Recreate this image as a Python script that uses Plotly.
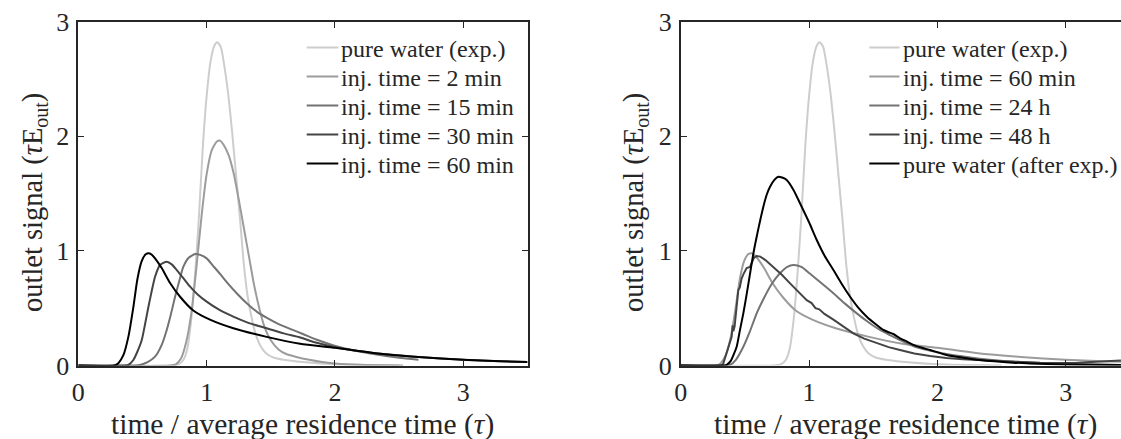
import plotly.graph_objects as go

# ---------------- data ----------------
# pure water (exp.) -- same curve in both panels
x_pw = [0, 0.72, 0.78, 0.82, 0.85, 0.88, 0.91, 0.94, 0.97, 1.00, 1.03, 1.06, 1.083, 1.11, 1.14,
        1.17, 1.20, 1.23, 1.26, 1.29, 1.32, 1.35, 1.38, 1.42, 1.46, 1.52, 1.60, 1.75, 2.0, 2.5]
y_pw = [0, 0, 0.01, 0.05, 0.15, 0.4, 0.8, 1.3, 1.9, 2.35, 2.65, 2.79, 2.82, 2.78, 2.6,
        2.35, 2.02, 1.65, 1.28, 0.88, 0.6, 0.42, 0.28, 0.17, 0.11, 0.07, 0.05, 0.03, 0.01, 0]

# inj. time = 2 min
x_2min = [0, 0.72, 0.76, 0.80, 0.84, 0.88, 0.92, 0.96, 1.00, 1.04, 1.08, 1.104, 1.13, 1.17, 1.21,
          1.25, 1.29, 1.33, 1.37, 1.41, 1.45, 1.50, 1.56, 1.62, 1.70, 1.80, 1.90, 2.0, 2.2, 2.53]
y_2min = [0, 0, 0.01, 0.06, 0.2, 0.45, 0.85, 1.3, 1.67, 1.88, 1.955, 1.962, 1.93, 1.84, 1.68,
          1.45, 1.2, 0.95, 0.7, 0.5, 0.34, 0.22, 0.14, 0.1, 0.075, 0.05, 0.03, 0.018, 0.006, 0]

# inj. time = 15 min
x_15min = [0, 0.44, 0.48, 0.54, 0.598, 0.65, 0.689, 0.72, 0.754, 0.79, 0.818, 0.86, 0.91, 0.95,
           1.0, 1.05, 1.104, 1.17, 1.234, 1.31, 1.39, 1.47, 1.546, 1.65, 1.75, 1.87, 1.99, 2.15,
           2.3, 2.5, 2.65]
y_15min = [0, 0, 0.005, 0.03, 0.077, 0.18, 0.31, 0.44, 0.6, 0.75, 0.86, 0.94, 0.973, 0.965,
           0.935, 0.87, 0.80, 0.71, 0.63, 0.545, 0.47, 0.415, 0.37, 0.32, 0.275, 0.22, 0.175, 0.13,
           0.1, 0.068, 0.05]

# inj. time = 30 min
x_30min = [0, 0.36, 0.39, 0.429, 0.46, 0.494, 0.52, 0.546, 0.572, 0.598, 0.637, 0.689, 0.73,
           0.767, 0.82, 0.871, 0.93, 1.0, 1.1, 1.208, 1.33, 1.468, 1.6, 1.728, 1.85, 2.0, 2.3,
           2.65, 3.0, 3.5]
y_30min = [0, 0, 0.005, 0.048, 0.12, 0.22, 0.36, 0.51, 0.65, 0.775, 0.877, 0.906, 0.88,
           0.833, 0.76, 0.688, 0.62, 0.557, 0.485, 0.426, 0.37, 0.325, 0.28, 0.245, 0.2, 0.16, 0.11,
           0.075, 0.05, 0.03]

# inj. time = 60 min -- same curve in both panels
x_60min = [0, 0.28, 0.312, 0.351, 0.39, 0.429, 0.46, 0.494, 0.525, 0.551, 0.575, 0.598, 0.65,
           0.715, 0.793, 0.896, 1.026, 1.208, 1.468, 1.728, 2.0, 2.3, 2.65, 3.0, 3.29, 3.5]
y_60min = [0, 0, 0.02, 0.09, 0.25, 0.51, 0.75, 0.91, 0.97, 0.98, 0.965, 0.935, 0.85,
           0.72, 0.6, 0.48, 0.40, 0.325, 0.25, 0.19, 0.155, 0.11, 0.075, 0.05, 0.037, 0.03]

# inj. time = 24 h
x_24h = [0, 0.36, 0.384, 0.43, 0.488, 0.54, 0.592, 0.645, 0.696, 0.74, 0.787, 0.83, 0.878, 0.94,
         1.008, 1.1, 1.19, 1.28, 1.372, 1.46, 1.553, 1.63, 1.709, 1.81, 1.94, 2.07, 2.33, 2.59,
         2.85, 3.2, 3.43]
y_24h = [0, 0, 0.005, 0.05, 0.164, 0.3, 0.455, 0.58, 0.688, 0.76, 0.82, 0.86, 0.877, 0.86,
         0.80, 0.715, 0.63, 0.54, 0.455, 0.38, 0.31, 0.265, 0.222, 0.17, 0.13, 0.1, 0.06, 0.035,
         0.02, 0.01, 0.005]

# inj. time = 48 h (noisy measurement)
x_48h = [0, 0.31, 0.33, 0.358, 0.38, 0.397, 0.405, 0.41, 0.42, 0.435, 0.449, 0.46, 0.475, 0.49,
         0.514, 0.54, 0.555, 0.57, 0.592, 0.62, 0.66, 0.722, 0.79, 0.852, 0.92, 0.982, 1.02, 1.05,
         1.08, 1.12, 1.19, 1.27, 1.345, 1.43, 1.528, 1.62, 1.709, 1.82, 1.943, 2.07, 2.2, 2.4,
         2.59, 2.8, 2.98, 3.08, 3.16, 3.25, 3.32, 3.37, 3.43]
y_48h = [0, 0, 0.01, 0.106, 0.2, 0.25, 0.35, 0.3, 0.34, 0.5, 0.66, 0.68, 0.76, 0.8,
         0.85, 0.86, 0.9, 0.94, 0.955, 0.95, 0.92, 0.86, 0.79, 0.717, 0.64, 0.57, 0.545, 0.5,
         0.49, 0.45, 0.4, 0.34, 0.28, 0.235, 0.193, 0.16, 0.135, 0.105, 0.083, 0.065, 0.054, 0.042,
         0.033, 0.025, 0.02, 0.022, 0.028, 0.032, 0.036, 0.04, 0.043]

# pure water (after exp.)
x_pwa = [0, 0.34, 0.358, 0.39, 0.436, 0.46, 0.488, 0.515, 0.54, 0.565, 0.592, 0.62, 0.644, 0.67,
         0.696, 0.73, 0.761, 0.79, 0.826, 0.88, 0.93, 1.0, 1.06, 1.12, 1.19, 1.25, 1.32, 1.38,
         1.45, 1.52, 1.579, 1.62, 1.657, 1.709, 1.76, 1.813, 1.88, 1.943, 2.07, 2.2, 2.33, 2.59,
         2.85, 3.1, 3.43]
y_pwa = [0, 0, 0.005, 0.04, 0.164, 0.3, 0.455, 0.63, 0.80, 0.97, 1.124, 1.27, 1.386, 1.49,
         1.56, 1.62, 1.647, 1.64, 1.619, 1.53, 1.415, 1.25, 1.095, 0.96, 0.833, 0.72, 0.60, 0.51,
         0.426, 0.36, 0.31, 0.29, 0.275, 0.237, 0.21, 0.18, 0.155, 0.135, 0.092, 0.068, 0.048, 0.025,
         0.012, 0.007, 0.004]

left_names = ["pure water (exp.)", "inj. time = 2 min", "inj. time = 15 min",
              "inj. time = 30 min", "inj. time = 60 min"]
right_names = ["pure water (exp.)", "inj. time = 60 min", "inj. time = 24 h",
               "inj. time = 48 h", "pure water (after exp.)"]
grays = ["#cdcdcd", "#9c9c9c", "#737373", "#444444", "#000000"]

x_tick_vals = [0, 1, 2, 3]
y_tick_vals = [0, 1, 2, 3]
x_title = "time / average residence time (<i>τ</i>)"
y_title = "outlet signal (<i>τ</i>E<sub>out</sub>)"

# ---------------- figure ----------------
W, H = 1121, 439
FONT = "Liberation Serif"
AX = "#262626"

left_data = [(x_pw, y_pw), (x_2min, y_2min), (x_15min, y_15min), (x_30min, y_30min), (x_60min, y_60min)]
right_data = [(x_pw, y_pw), (x_60min, y_60min), (x_24h, y_24h), (x_48h, y_48h), (x_pwa, y_pwa)]

fig = go.Figure()
for (xs, ys), name, col in zip(left_data, left_names, grays):
    fig.add_trace(go.Scatter(x=xs, y=ys, mode="lines", name=name, xaxis="x", yaxis="y",
                             line=dict(color=col, width=2, shape="spline", smoothing=0.6),
                             showlegend=False))
for i, ((xs, ys), name, col) in enumerate(zip(right_data, right_names, grays)):
    shape = "linear" if i == 3 else "spline"
    fig.add_trace(go.Scatter(x=xs, y=ys, mode="lines", name=name, xaxis="x2", yaxis="y2",
                             line=dict(color=col, width=2, shape=shape, smoothing=0.6),
                             showlegend=False))

x0L, x1L = 78.3, 527.5
x0R = 680.7
px_per_unit = (x1L - x0L) / 3.5
yTop, yBot = 21.7, 365.5

common_ax = dict(showgrid=False, zeroline=False, showline=True, linecolor=AX, linewidth=1.6,
                 ticks="inside", ticklen=6, tickwidth=1.4, tickcolor=AX,
                 tickfont=dict(family=FONT, size=26, color=AX), automargin=False)

annotations = [
    dict(text=x_title, x=(x0L + x1L) / 2 / W, y=1 - 424 / H, xref="paper", yref="paper",
         showarrow=False, xanchor="center", yanchor="middle",
         font=dict(family=FONT, size=29.5, color=AX)),
    dict(text=x_title, x=(x0R + 3.5 * px_per_unit / 2) / W, y=1 - 424 / H, xref="paper", yref="paper",
         showarrow=False, xanchor="center", yanchor="middle",
         font=dict(family=FONT, size=29.5, color=AX)),
    dict(text=y_title, x=34 / W, y=1 - 203 / H, xref="paper", yref="paper",
         showarrow=False, xanchor="center", yanchor="middle", textangle=-90,
         font=dict(family=FONT, size=28.5, color=AX)),
    dict(text=y_title, x=635 / W, y=1 - 203 / H, xref="paper", yref="paper",
         showarrow=False, xanchor="center", yanchor="middle", textangle=-90,
         font=dict(family=FONT, size=28.5, color=AX)),
]

# legend boxes (swatch line + label), drawn at the reference's legend positions
shapes = []
legend_rows_y = [47.5, 76.5, 105.5, 134.5, 163.5]
for names, sx0, sx1, tx in [(left_names, 306.7, 338.3, 339.0), (right_names, 869.3, 899.5, 900.5)]:
    for name, col, ry in zip(names, grays, legend_rows_y):
        shapes.append(dict(type="line", xref="paper", yref="paper", x0=sx0 / W, x1=sx1 / W,
                           y0=1 - ry / H, y1=1 - ry / H, line=dict(color=col, width=2)))
        annotations.append(dict(text=name, x=tx / W, y=1 - (ry + 1) / H, xref="paper", yref="paper",
                                showarrow=False, xanchor="left", yanchor="middle",
                                font=dict(family=FONT, size=24, color=AX)))

fig.update_layout(
    width=W, height=H, margin=dict(l=0, r=0, t=0, b=0),
    paper_bgcolor="white", plot_bgcolor="white", showlegend=False,
    xaxis=dict(domain=[x0L / W, x1L / W], range=[0, 3.5], anchor="y", mirror="ticks",
               tickvals=x_tick_vals, ticklabelstandoff=2, **common_ax),
    yaxis=dict(domain=[1 - yBot / H, 1 - yTop / H], range=[0, 3], anchor="x", mirror="ticks",
               tickvals=y_tick_vals, ticklabelstandoff=2, **common_ax),
    xaxis2=dict(domain=[x0R / W, 1.0], range=[0, (W - x0R) / px_per_unit], anchor="y2", mirror="ticks",
                tickvals=x_tick_vals, ticklabelstandoff=2, **common_ax),
    yaxis2=dict(domain=[1 - yBot / H, 1 - yTop / H], range=[0, 3], anchor="x2", mirror=False,
                tickvals=y_tick_vals, ticklabelstandoff=2, **common_ax),
    annotations=annotations,
    shapes=shapes,
)

fig.write_html("out.html")
